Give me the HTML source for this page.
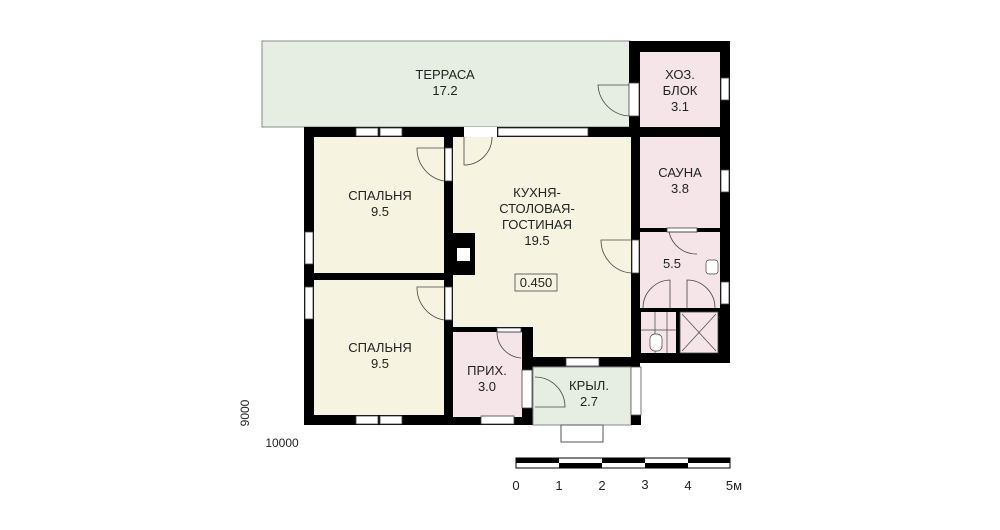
<!DOCTYPE html><html><head><style>body{margin:0;background:#fff}svg{display:block}text{font-family:"Liberation Sans",sans-serif;font-size:13px;fill:#222;text-anchor:middle}</style></head><body>
<svg width="1000" height="530" viewBox="0 0 1000 530">
<rect x="262" y="41" width="368" height="86" fill="#e6eee3" stroke="#888" stroke-width="1"/>
<rect x="629" y="41" width="101" height="322" fill="#000"/>
<rect x="640" y="52" width="80" height="75" fill="#f5e5e8"/>
<rect x="640" y="137" width="80" height="91" fill="#f5e5e8"/>
<rect x="640" y="232" width="80" height="76" fill="#f5e5e8"/>
<rect x="304" y="127" width="336" height="298" fill="#000"/>
<rect x="314" y="137" width="130" height="136" fill="#f6f4e1"/>
<rect x="314" y="280" width="130" height="135" fill="#f6f4e1"/>
<rect x="453" y="137" width="178" height="190" fill="#f6f4e1"/>
<rect x="533" y="320" width="98" height="37" fill="#f6f4e1"/>
<rect x="453" y="332" width="69" height="85" fill="#f5e5e8"/>
<rect x="533" y="367" width="98" height="58" fill="#e6eee3" stroke="#888" stroke-width="1"/>
<rect x="631" y="415" width="10" height="10" fill="#000"/>
<rect x="631" y="367" width="10" height="48" fill="#fff" stroke="#555" stroke-width="0.8"/>
<rect x="561" y="425" width="42" height="17" fill="#fff" stroke="#555" stroke-width="1"/>
<rect x="449" y="233" width="26" height="42" fill="#000"/>
<rect x="457" y="248" width="13" height="13" fill="#fff"/>
<g fill="#fff" stroke="#444" stroke-width="0.8">
<rect x="356" y="128" width="22" height="8"/><rect x="380" y="128" width="22" height="8"/>
<rect x="498" y="128" width="90" height="8"/>
<rect x="464" y="127" width="33" height="10" stroke="none"/>
<rect x="356" y="416" width="22" height="8"/><rect x="380" y="416" width="22" height="8"/>
<rect x="481" y="416" width="33" height="8"/>
<rect x="305" y="232" width="8" height="32"/><rect x="305" y="287" width="8" height="32"/>
<rect x="566" y="358" width="33" height="8"/>
<rect x="721" y="78" width="8" height="22"/><rect x="721" y="170" width="8" height="22"/><rect x="721" y="282" width="8" height="22"/>
<rect x="629" y="83" width="10" height="33"/>
<rect x="445" y="148" width="7" height="33"/><rect x="445" y="287" width="7" height="33"/>
<rect x="632" y="240" width="7" height="33"/>
<rect x="522" y="370" width="10" height="38"/>
<rect x="497" y="328" width="24" height="4"/>
<rect x="667" y="228" width="30" height="4"/>
</g>
<g fill="none" stroke="#444" stroke-width="0.8">
<path d="M629 116 A33 33 0 0 1 598 85 L629 85"/>
<path d="M444 181 A33 33 0 0 1 417 148 L444 148"/>
<path d="M464 137 L464 165 A28 28 0 0 0 492 137"/>
<path d="M444 320 A33 33 0 0 1 417 287 L444 287"/>
<path d="M631 273 A33 33 0 0 1 601 240 L631 240"/>
<path d="M521 358 A26 26 0 0 1 497 332 L521 332"/>
<path d="M697 254 A28 28 0 0 1 669 232 L697 232"/>
<path d="M535 407 L565 407 A30 30 0 0 0 535 377"/>
<path d="M643 308 A28 28 0 0 1 670 280 L670 308"/>
<path d="M687 308 L687 280 A28 28 0 0 1 715 308"/>
</g>
<rect x="641" y="312" width="35" height="41" fill="#f5e5e8"/>
<rect x="680" y="312" width="38" height="41" fill="#f5e5e8" stroke="#444" stroke-width="0.8"/>
<g stroke="#444" stroke-width="0.7" fill="none">
<line x1="682" y1="314" x2="716" y2="351"/><line x1="716" y1="314" x2="682" y2="351"/>
<line x1="641" y1="330" x2="676" y2="330"/><line x1="655" y1="312" x2="655" y2="353"/><line x1="667" y1="312" x2="667" y2="353"/>
<rect x="650" y="334" width="12" height="17" rx="5" fill="#fff"/>
<rect x="706" y="260" width="12" height="14" rx="3" fill="#fff"/>
</g>
<text x="445" y="79">ТЕРРАСА</text><text x="445" y="95">17.2</text>
<text x="680" y="79">ХОЗ.</text><text x="680" y="95">БЛОК</text><text x="680" y="111">3.1</text>
<text x="680" y="177">САУНА</text><text x="680" y="193">3.8</text>
<text x="672" y="268">5.5</text>
<text x="380" y="200">СПАЛЬНЯ</text><text x="380" y="216">9.5</text>
<text x="380" y="352">СПАЛЬНЯ</text><text x="380" y="368">9.5</text>
<text x="537" y="197">КУХНЯ-</text><text x="537" y="213">СТОЛОВАЯ-</text><text x="537" y="229">ГОСТИНАЯ</text><text x="537" y="245">19.5</text>
<rect x="515" y="274" width="42" height="17" fill="none" stroke="#444" stroke-width="0.8"/>
<text x="536" y="287">0.450</text>
<text x="487" y="375">ПРИХ.</text><text x="487" y="391">3.0</text>
<text x="589" y="390">КРЫЛ.</text><text x="589" y="406">2.7</text>
<text x="282" y="447" style="font-size:12px">10000</text>
<text transform="translate(249,413) rotate(-90)" style="font-size:12px">9000</text>
<rect x="516" y="458" width="214" height="10" fill="#fff" stroke="#000" stroke-width="1"/>
<g fill="#000">
<rect x="516" y="458" width="43" height="5"/><rect x="559" y="463" width="43" height="5"/>
<rect x="602" y="458" width="43" height="5"/><rect x="645" y="463" width="43" height="5"/>
<rect x="688" y="458" width="42" height="5"/>
</g>
<text x="516" y="490">0</text><text x="559" y="490">1</text><text x="602" y="490">2</text><text x="645" y="489">3</text><text x="688" y="490">4</text><text x="734" y="490">5м</text>
</svg></body></html>
